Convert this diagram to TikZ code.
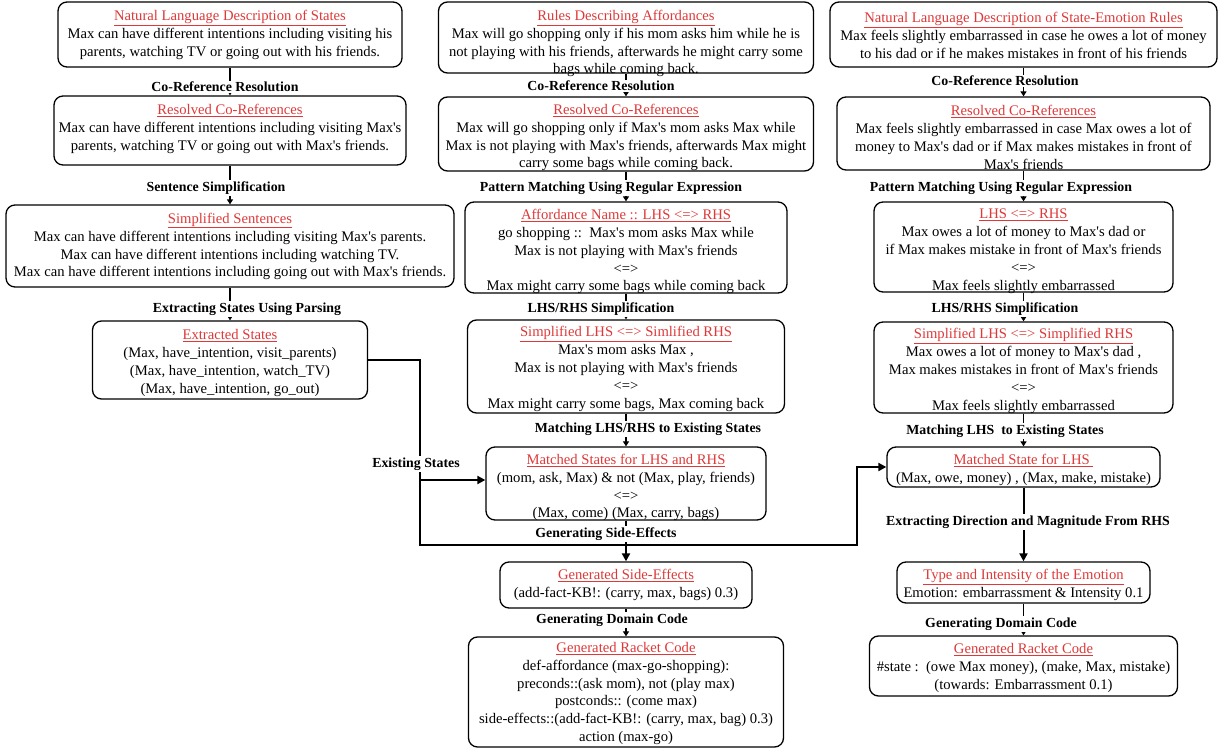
\documentclass[tikz,border=0pt]{standalone}
\usepackage{fontspec}
\setmainfont{Liberation Serif}
\newfontfamily\rom{Liberation Serif}
\usetikzlibrary{arrows.meta}
\definecolor{tred}{RGB}{222,56,56}
\newcommand{\ttl}[1]{\textcolor{tred}{\underline{#1}}}
\begin{document}
\begin{tikzpicture}[x=1bp,y=-1bp,
 box/.style={draw, line width=1.3bp, rounded corners=9bp, inner sep=0},
 txt/.style={align=center, inner sep=0, font=\rom\fontsize{14.7}{18}\selectfont},
 lab/.style={fill=white, inner sep=1.5bp, font=\fontsize{13.9}{15}\selectfont\bfseries},
 conn/.style={line width=1.8bp, -{Triangle[width=6bp,length=5bp]}},
 bigconn/.style={line width=2bp, -{Triangle[width=8bp,length=8bp]}},
 route/.style={line width=2.2bp},
]
\useasboundingbox (0,0) rectangle (1225,751);

% ---------- boxes column 1
\node[box, minimum width=344bp, minimum height=65bp] (a1) at (230,34.5) {};
\node[box, minimum width=352bp, minimum height=69bp] (a2) at (230,130.5) {};
\node[box, minimum width=448bp, minimum height=82bp] (a3) at (230,246) {};
\node[box, minimum width=275bp, minimum height=78bp] (a4) at (230,360) {};
% ---------- boxes column 2
\node[box, minimum width=375bp, minimum height=71bp] (b1) at (626,37.5) {};
\node[box, minimum width=375bp, minimum height=74bp] (b2) at (626,134) {};
\node[box, minimum width=322bp, minimum height=91bp] (b3) at (626,247.5) {};
\node[box, minimum width=317bp, minimum height=93bp] (b4) at (626,366.5) {};
\node[box, minimum width=280bp, minimum height=73bp] (b5) at (626,483.5) {};
\node[box, minimum width=252bp, minimum height=46bp] (b6) at (626,585) {};
\node[box, minimum width=315bp, minimum height=110bp] (b7) at (626,692) {};
% ---------- boxes column 3
\node[box, minimum width=387bp, minimum height=65bp] (c1) at (1023.5,34.5) {};
\node[box, minimum width=373bp, minimum height=73bp] (c2) at (1023.5,133.5) {};
\node[box, minimum width=299bp, minimum height=90bp] (c3) at (1023.5,247) {};
\node[box, minimum width=299bp, minimum height=91bp] (c4) at (1023.5,367.5) {};
\node[box, minimum width=273bp, minimum height=40bp] (c5) at (1023.5,467) {};
\node[box, minimum width=253bp, minimum height=41bp] (c6) at (1023.5,582.5) {};
\node[box, minimum width=308bp, minimum height=60bp] (c7) at (1023.5,666) {};

% ---------- texts
\node[txt] (a1t) at (230,35) {\ttl{Natural Language Description of States}\\Max can have different intentions including visiting his\\parents, watching TV or going out with his friends.};
\node[txt] (a2t) at (230,129) {\ttl{Resolved Co-References}\\Max can have different intentions including visiting Max's\\parents, watching TV or going out with Max's friends.};
\node[txt] (a3t) at (230,246.5) {\ttl{Simplified Sentences}\\Max can have different intentions including visiting Max's parents.\\Max can have different intentions including watching TV.\\Max can have different intentions including going out with Max's friends.};
\node[txt] (a4t) at (230,363) {\ttl{Extracted States}\\(Max, have\_intention, visit\_parents)\\(Max, have\_intention, watch\_TV)\\(Max, have\_intention, go\_out)};

\node[txt] (b1t) at (626,43.5) {\ttl{Rules Describing Affordances}\\Max will go shopping only if his mom asks him while he is\\not playing with his friends, afterwards he might carry some\\bags while coming back.};
\node[txt] (b2t) at (626,137.5) {\ttl{Resolved Co-References}\\Max will go shopping only if Max's mom asks Max while\\Max is not playing with Max's friends, afterwards Max might\\carry some bags while coming back.};
\node[txt] (b3t) at (626,251.5) {\ttl{Affordance Name :: LHS <=> RHS}\\go shopping ::\ \ Max's mom asks Max while\\Max is not playing with Max's friends\\<=>\\Max might carry some bags while coming back};
\node[txt] (b4t) at (626,369) {\ttl{Simplified LHS <=> Simlified RHS}\\Max's mom asks Max ,\\Max is not playing with Max's friends\\<=>\\Max might carry some bags, Max coming back};
\node[txt] (b5t) at (626,487.5) {\ttl{Matched States for LHS and RHS}\\(mom, ask, Max) \& not (Max, play, friends)\\<=>\\(Max, come) (Max, carry, bags)};
\node[txt] (b6t) at (626,585) {\ttl{Generated Side-Effects}\\(add-fact-KB!: (carry, max, bags) 0.3)};
\node[txt] (b7t) at (626,693.5) {\ttl{Generated Racket Code}\\def-affordance (max-go-shopping):\\preconds::(ask mom), not (play max)\\postconds:: (come max)\\side-effects::(add-fact-KB!: (carry, max, bag) 0.3)\\action (max-go)};

\node[txt] (c1t) at (1023.5,35) {\ttl{Natural Language Description of State-Emotion Rules}\\Max feels slightly embarrassed in case he owes a lot of money\\to his dad or if he makes mistakes in front of his friends};
\node[txt] (c2t) at (1023.5,137.5) {\ttl{Resolved Co-References}\\Max feels slightly embarrassed in case Max owes a lot of\\money to Max's dad or if Max makes mistakes in front of\\Max's friends};
\node[txt] (c3t) at (1023.5,251.5) {\ttl{LHS <=> RHS}\\Max owes a lot of money to Max's dad or\\if Max makes mistake in front of Max's friends\\<=>\\Max feels slightly embarrassed};
\node[txt] (c4t) at (1023.5,371) {\ttl{Simplified LHS <=> Simplified RHS}\\Max owes a lot of money to Max's dad ,\\Max makes mistakes in front of Max's friends\\<=>\\Max feels slightly embarrassed};
\node[txt] (c5t) at (1023.5,470) {\ttl{Matched State for LHS\ }\\(Max, owe, money) , (Max, make, mistake)};
\node[txt] (c6t) at (1023.5,585) {\ttl{Type and Intensity of the Emotion}\\Emotion: embarrassment \& Intensity 0.1};
\node[txt] (c7t) at (1023.5,668) {\ttl{Generated Racket Code}\\\#state :\ \ (owe Max money), (make, Max, mistake)\\(towards: Embarrassment 0.1)};

% ---------- connectors
\draw[conn] (a1.south) -- (a1.south |- a2.north);
\draw[conn] (a2.south) -- (a2.south |- a3.north);
\draw[conn] (a3.south) -- (a3.south |- a4.north);
\draw[conn] (b1.south) -- (b1.south |- b2.north);
\draw[conn] (b2.south) -- (b2.south |- b3.north);
\draw[conn] (b3.south) -- (b3.south |- b4.north);
\draw[conn] (b4.south) -- (b4.south |- b5.north);
\draw[bigconn] (b5.south) -- (b5.south |- b6.north);
\draw[conn] (b6.south) -- (b6.south |- b7.north);
\draw[conn] (c1.south) -- (c1.south |- c2.north);
\draw[conn] (c2.south) -- (c2.south |- c3.north);
\draw[conn] (c3.south) -- (c3.south |- c4.north);
\draw[conn] (c4.south) -- (c4.south |- c5.north);
\draw[bigconn] (c5.south) -- (c5.south |- c6.north);
\draw[conn] (c6.south) -- (c6.south |- c7.north);

\coordinate (j1) at (420,360);
\coordinate (jb) at (420,480);
\coordinate (j2) at (420,545);
\coordinate (j3) at (857,545);
\draw[route, -{Triangle[width=8bp,length=8bp]}] (a4.east) -- (j1) -- (j2) -- (j3) |- (c5.west);
\draw[route, -{Triangle[width=8bp,length=8bp]}] (jb) -- (b5.west |- jb);

% ---------- labels
\node[lab] (l1) at (225,87) {Co-Reference Resolution};
\node[lab] (l2) at (216,188) {Sentence Simplification};
\node[lab] (l3) at (247,309) {Extracting States Using Parsing};
\node[lab] (l4) at (416,464) {Existing States};
\node[lab] (m1) at (601,86) {Co-Reference Resolution};
\node[lab] (m2) at (611,188) {Pattern Matching Using Regular Expression};
\node[lab] (m3) at (601,309) {LHS/RHS Simplification};
\node[lab] (m4) at (648,429) {Matching LHS/RHS to Existing States};
\node[lab] (m5) at (606,534) {Generating Side-Effects};
\node[lab] (m6) at (612,620) {Generating Domain Code};
\node[lab] (r1) at (1005,81) {Co-Reference Resolution};
\node[lab] (r2) at (1001,188) {Pattern Matching Using Regular Expression};
\node[lab] (r3) at (1005,309) {LHS/RHS Simplification};
\node[lab] (r4) at (1005,431) {Matching LHS\ \ to Existing States};
\node[lab] (r5) at (1028,522) {Extracting Direction and Magnitude From RHS};
\node[lab] (r6) at (1001,624) {Generating Domain Code};
\end{tikzpicture}
\end{document}
